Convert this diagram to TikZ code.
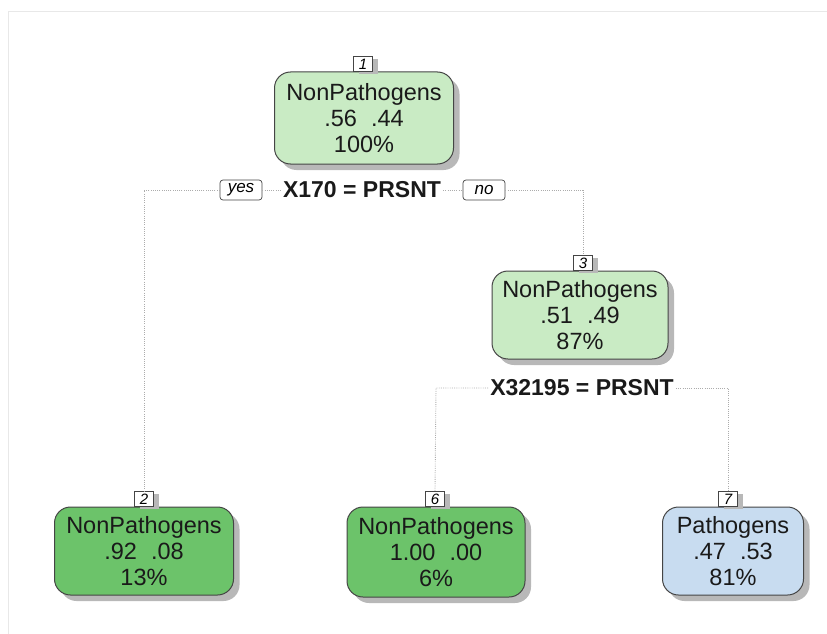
\documentclass[tikz,border=0pt]{standalone}
\usepackage{fontspec}
\setmainfont{Liberation Sans}
\usetikzlibrary{shadows}

\definecolor{lightgn}{HTML}{C9EBC4}
\definecolor{darkgn}{HTML}{6CC36A}
\definecolor{lightbl}{HTML}{C8DCF0}
\definecolor{edgegray}{HTML}{454545}
\definecolor{shadowgray}{HTML}{B8B8B8}
\definecolor{inkcol}{HTML}{1A1A1A}

\tikzset{
  treebox/.style={draw=edgegray, line width=1pt, rounded corners=16pt,
    align=center, inner sep=0pt, text=inkcol,
    font=\fontsize{23.5}{26}\selectfont,
    drop shadow={shadow xshift=6pt, shadow yshift=-6pt, fill=shadowgray, opacity=1}},
  numbox/.style={draw=edgegray, line width=0.7pt, fill=white, anchor=south,
    minimum width=19pt, minimum height=15pt, inner sep=0pt,
    font=\fontsize{15}{15}\selectfont\itshape,
    drop shadow={shadow xshift=5pt, shadow yshift=-2pt, fill=shadowgray, opacity=1}},
  splittext/.style={font=\fontsize{23}{23}\selectfont\bfseries, text=inkcol, inner sep=2pt},
  branchbox/.style={draw=edgegray, line width=0.7pt, rounded corners=3pt, fill=white,
    minimum width=42pt, minimum height=20pt, inner sep=0pt,
    font=\fontsize{17}{17}\selectfont\itshape},
  link/.style={draw=gray!65, line width=0.9pt, dash pattern=on 0.9pt off 1.3pt}
}

\begin{document}
\begin{tikzpicture}[x=1pt, y=-1pt]
  \useasboundingbox (0,0) rectangle (827,634);
  % faint page frame
  \draw[gray!18, line width=0.8pt] (8,634) -- (8,11) -- (827,11);

  % tree nodes
  \node[treebox, fill=lightgn, minimum width=179pt, minimum height=92pt] (n1) at (364,118)
    {NonPathogens\\.56\hspace{0.6em}.44\\100\%};
  \node[treebox, fill=lightgn, minimum width=176pt, minimum height=88pt] (n3) at (580,315)
    {NonPathogens\\.51\hspace{0.6em}.49\\87\%};
  \node[treebox, fill=darkgn, minimum width=179pt, minimum height=88pt] (n2) at (144,551)
    {NonPathogens\\.92\hspace{0.6em}.08\\13\%};
  \node[treebox, fill=darkgn, minimum width=178pt, minimum height=90pt] (n6) at (436,552)
    {NonPathogens\\1.00\hspace{0.6em}.00\\6\%};
  \node[treebox, fill=lightbl, minimum width=141pt, minimum height=88pt] (n7) at (733,551)
    {Pathogens\\.47\hspace{0.6em}.53\\81\%};

  % node numbers
  \node[numbox] (l1) at (363,72) {1};
  \node[numbox] (l3) at (583,271) {3};
  \node[numbox] (l2) at (144,507) {2};
  \node[numbox] (l6) at (435,507) {6};
  \node[numbox] (l7) at (728,507) {7};

  % split labels
  \node[splittext] (s1) at (362,190) {X170 = PRSNT};
  \node[branchbox] (yes) at (241,190) {yes};
  \node[branchbox] (no) at (484,190) {no};
  \node[splittext] (s2) at (582,388) {X32195 = PRSNT};

  % branch corners
  \coordinate (c1l) at (144,190);
  \coordinate (c1r) at (583,190);
  \coordinate (c2l) at (436,388);
  \coordinate (c2r) at (728,388);

  % connectors
  \draw[link] (yes.west) -- (c1l) -- (l2.north);
  \draw[link] (yes.east) -- (s1.west);
  \draw[link] (s1.east) -- (no.west);
  \draw[link] (no.east) -- (c1r) -- (l3.north);
  \draw[link] (s2.west) -- (c2l) -- (l6.north);
  \draw[link] (s2.east) -- (c2r) -- (l7.north);
\end{tikzpicture}
\end{document}
